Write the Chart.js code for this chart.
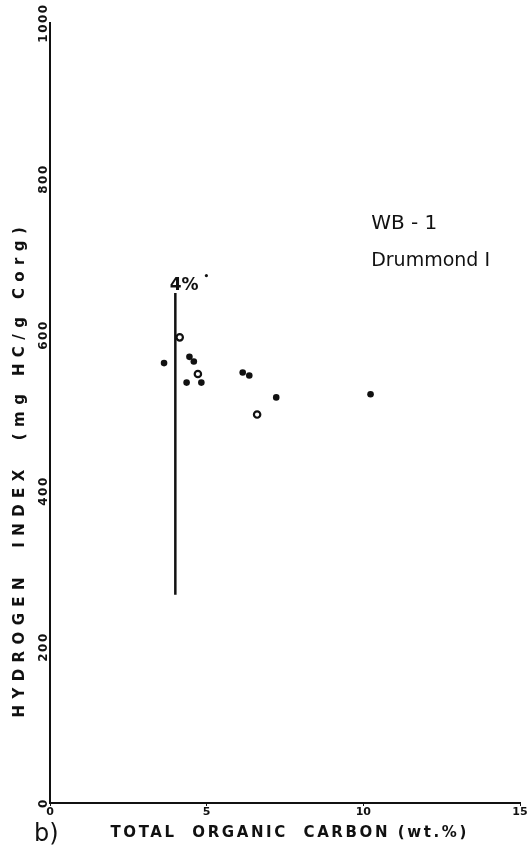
<!DOCTYPE html>
<html>
<head>
<meta charset="utf-8">
<script src="https://cdn.jsdelivr.net/npm/chart.js@4.4.1/dist/chart.umd.min.js"></script>
<style>
	body { margin: 0; background: #fff; }
	#wrap { width: 531px; height: 847px; }
</style>
</head>
<body>
<div id="wrap"><canvas id="hiChart" width="531" height="847"></canvas></div>
<script>
// samples: total organic carbon (wt.%) vs hydrogen index
const tocFilled = [3.64, 4.45, 4.59, 4.36, 4.83, 6.15, 6.36, 7.22, 10.23];
const hiFilled = [564, 572, 566, 539, 539, 552, 548, 520, 524];
const tocOpen = [4.14, 4.72, 6.61];
const hiOpen = [597, 550, 498];

// the 4% cut-off line
const cutoffToc = [4, 4];
const cutoffHi = [267, 654];

const xTicks = [0, 5, 10, 15];
const yTicks = [0, 200, 400, 600, 800, 1000];

const xTitle = 'TOTAL  ORGANIC  CARBON (wt.%)';
const yTitle = 'HYDROGEN  INDEX  (mg HC/g Corg)';

const ink = '#111';
const fontFamily = '"DejaVu Sans", sans-serif';

function toPoints(xs, ys) {
	return xs.map((x, i) => ({ x: x, y: ys[i] }));
}

// texts placed in data coordinates
const notes = [
	{ text: 'WB - 1', x: 10.25, y: 736, font: '20px ' + fontFamily },
	{ text: 'Drummond I', x: 10.25, y: 688, font: '19px ' + fontFamily },
	{ text: '4%', x: 3.82, y: 658, font: 'bold 17px ' + fontFamily },
	{ text: '•', x: 4.9, y: 672, font: 'bold 9px ' + fontFamily }
];

const annotationPlugin = {
	id: 'annotations',
	afterDraw(chart) {
		const ctx = chart.ctx;
		const xs = chart.scales.x;
		const ys = chart.scales.y;
		const area = chart.chartArea;
		ctx.save();
		ctx.fillStyle = ink;

		// y tick labels, rotated like the original
		ctx.font = 'bold 12px ' + fontFamily;
		ctx.letterSpacing = '1.5px';
		ctx.textAlign = 'center';
		ctx.textBaseline = 'middle';
		ys.ticks.forEach(t => {
			ctx.save();
			ctx.translate(area.left - 6, ys.getPixelForValue(t.value));
			ctx.rotate(-Math.PI / 2);
			ctx.fillText(String(t.value), 0, 0);
			ctx.restore();
		});

		// axis titles
		ctx.font = 'bold 15px ' + fontFamily;
		ctx.letterSpacing = '6.4px';
		ctx.save();
		ctx.translate(20, ys.getPixelForValue(428));
		ctx.rotate(-Math.PI / 2);
		ctx.fillText(yTitle, 0, 0);
		ctx.restore();

		ctx.font = 'bold 15px ' + fontFamily;
		ctx.letterSpacing = '2.6px';
		ctx.fillText(xTitle, xs.getPixelForValue(7.65), area.bottom + 30);

		// notes
		ctx.letterSpacing = '0px';
		ctx.textAlign = 'left';
		ctx.textBaseline = 'alphabetic';
		notes.forEach(n => {
			ctx.font = n.font;
			ctx.fillText(n.text, xs.getPixelForValue(n.x), ys.getPixelForValue(n.y));
		});

		// panel letter
		ctx.font = '24px ' + fontFamily;
		ctx.fillText('b)', area.left - 16, area.bottom + 38);
		ctx.restore();
	}
};

const canvas = document.getElementById('hiChart');

new Chart(canvas, {
	type: 'scatter',
	data: {
		datasets: [
			{
				label: 'cutoff',
				data: toPoints(cutoffToc, cutoffHi),
				showLine: true,
				borderColor: ink,
				borderWidth: 2.5,
				pointRadius: 0
			},
			{
				label: 'filled',
				data: toPoints(tocFilled, hiFilled),
				backgroundColor: ink,
				borderColor: ink,
				borderWidth: 0,
				pointRadius: 3.3
			},
			{
				label: 'open',
				data: toPoints(tocOpen, hiOpen),
				backgroundColor: '#fff',
				borderColor: ink,
				borderWidth: 2.2,
				pointRadius: 3.2
			}
		]
	},
	options: {
		responsive: false,
		animation: false,
		events: [],
		layout: {
			padding: { left: 50, top: 23, right: 11, bottom: 0 }
		},
		plugins: {
			legend: { display: false },
			tooltip: { enabled: false }
		},
		scales: {
			x: {
				type: 'linear',
				min: 0,
				max: 15,
				afterBuildTicks: (scale) => { scale.ticks = xTicks.map(v => ({ value: v })); },
				afterFit: (scale) => { scale.height = 44; },
				border: { display: true, color: ink, width: 2 },
				grid: { drawOnChartArea: false, drawTicks: true, tickLength: 3, color: ink },
				ticks: {
					padding: 0,
					color: ink,
					font: { family: 'DejaVu Sans', size: 11, weight: 'bold' }
				}
			},
			y: {
				type: 'linear',
				min: 0,
				max: 1000,
				afterBuildTicks: (scale) => { scale.ticks = yTicks.map(v => ({ value: v })); },
				afterFit: (scale) => { scale.width = 0; },
				border: { display: true, color: ink, width: 2 },
				grid: { drawOnChartArea: false, drawTicks: false, color: ink },
				ticks: { display: false }
			}
		}
	},
	plugins: [annotationPlugin]
});
</script>
</body>
</html>
